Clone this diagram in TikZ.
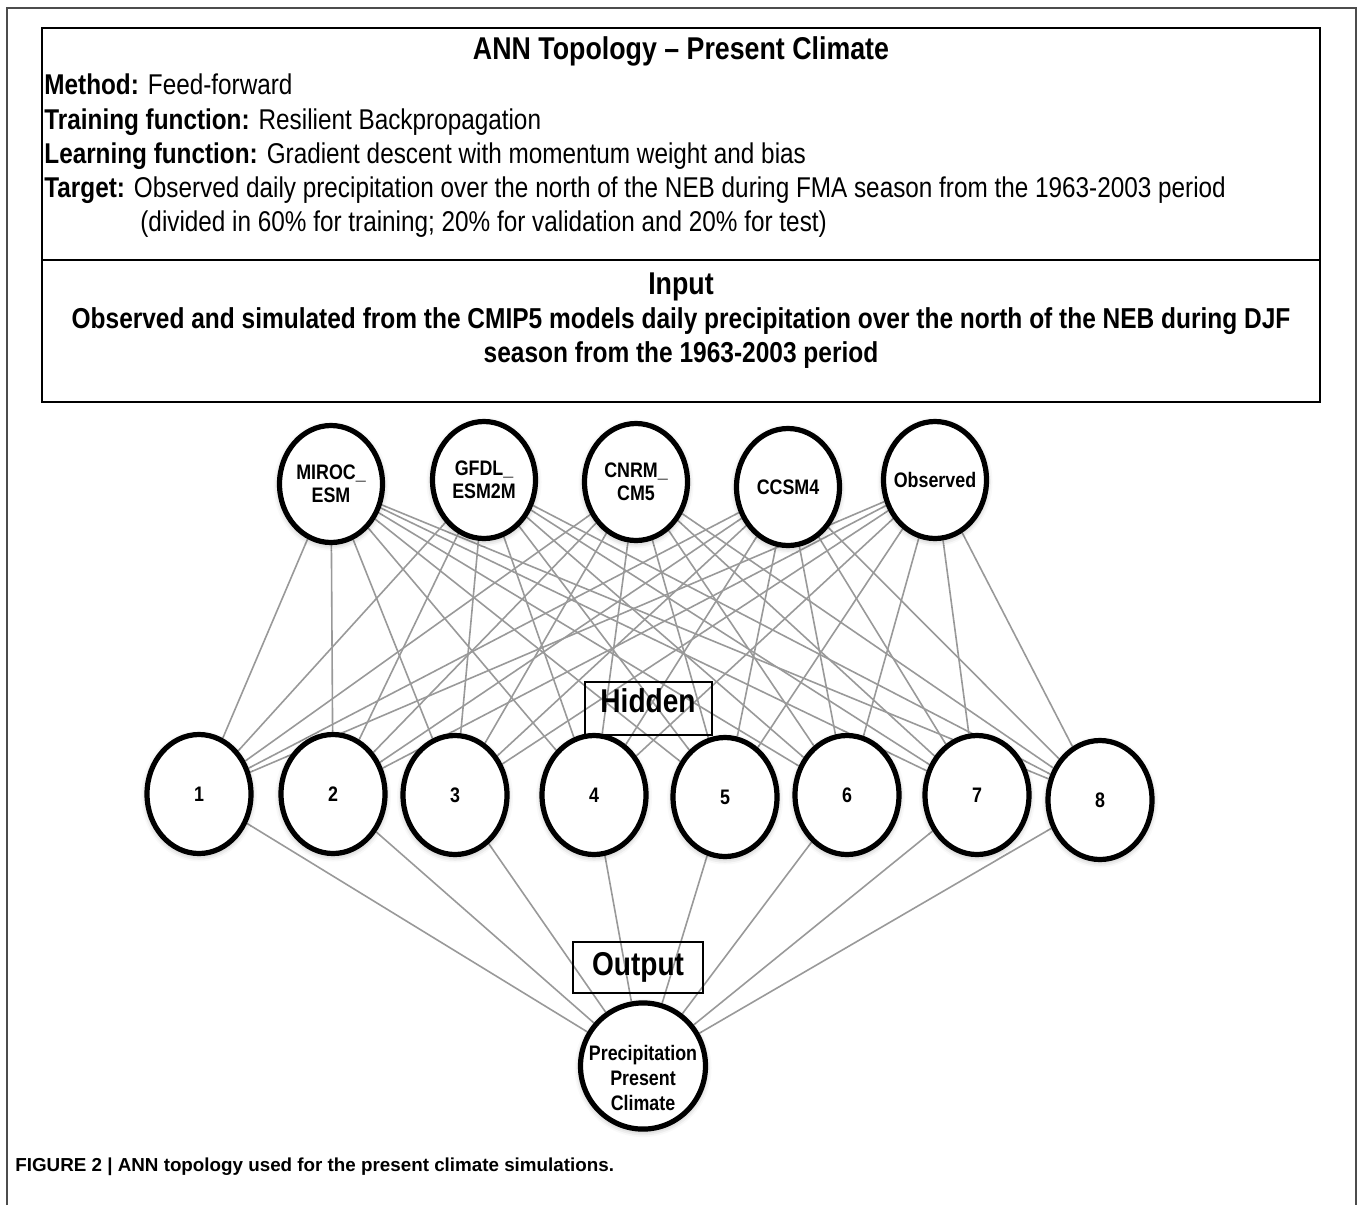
\documentclass[tikz,border=0pt]{standalone}
\usepackage{fontspec}
\setmainfont{Liberation Sans}
\newfontfamily\narrowfont{Liberation Sans}[FakeStretch=0.85]
\usetikzlibrary{shapes.geometric, shadows.blur, backgrounds}

\begin{document}
\begin{tikzpicture}[
    x=0.5pt, y=-0.5pt,
    every node/.style={font=\narrowfont\fontsize{14.3}{17}\selectfont, inner sep=0pt},
    panel/.style={
        rectangle,
        draw=black,
        line width=1.3pt,
        minimum width=639pt
    },
    neuron/.style={
        ellipse,
        draw=black,
        line width=2.6pt,
        fill=white,
        align=center,
        inner xsep=-5pt,
        font=\narrowfont\bfseries\fontsize{10.5}{11.5}\selectfont,
        blur shadow={shadow xshift=0pt, shadow yshift=-1pt, shadow blur radius=3pt, shadow opacity=35}
    },
    inputnode/.style={neuron, minimum width=51.5pt, minimum height=58.5pt},
    hiddennode/.style={neuron, minimum width=52pt, minimum height=59.5pt},
    outputnode/.style={neuron, minimum width=62.5pt, minimum height=61.5pt, font=\narrowfont\bfseries\fontsize{10.5}{12.5}\selectfont},
    layerlabel/.style={draw=black, line width=1pt, font=\narrowfont\bfseries\fontsize{16.5}{18}\selectfont},
    link/.style={draw=gray!80, line width=0.8pt}
]
\useasboundingbox (0,0) rectangle (1358,1205);

% outer frame
\draw[gray!60!black, line width=0.6pt] (7,1205) -- (7,8) -- (1356,8) -- (1356,1205);

% description panels
\node[panel, minimum height=116pt] (topology) at (681,144) {};
\node[panel, minimum height=71pt] (inputpanel) at (681,331) {};

\node[anchor=base, font=\narrowfont\bfseries\fontsize{15.75}{18}\selectfont] (title) at (681,59) {ANN Topology – Present Climate};
\node[anchor=base west] (method) at (44,94) {\textbf{Method:} Feed-forward};
\node[anchor=base west] (training) at (44,129) {\textbf{Training function:} Resilient Backpropagation};
\node[anchor=base west] (learning) at (44,163) {\textbf{Learning function:} Gradient descent with momentum weight and bias};
\node[anchor=base west] (target) at (44,197) {\textbf{Target:} Observed daily precipitation over the north of the NEB during FMA season from the 1963-2003 period};
\node[anchor=base west] (split) at (140,231) {(divided in 60\% for training; 20\% for validation and 20\% for test)};

\node[anchor=base, font=\narrowfont\bfseries\fontsize{15.75}{18}\selectfont] (inputtitle) at (681,294) {Input};
\node[anchor=base, font=\narrowfont\bfseries\fontsize{14.4}{17}\selectfont] (inputline) at (681,328) {Observed and simulated from the CMIP5 models daily precipitation over the north of the NEB during DJF};
\node[anchor=base, font=\narrowfont\bfseries\fontsize{14.4}{17}\selectfont] (inputline2) at (681,362) {season from the 1963-2003 period};

% input layer
\node[inputnode] (miroc) at (331,484) {MIROC\_\\ESM};
\node[inputnode] (gfdl) at (484,480) {GFDL\_\\ESM2M};
\node[inputnode] (cnrm) at (636,482) {CNRM\_\\CM5};
\node[inputnode] (ccsm) at (788,487) {CCSM4};
\node[inputnode] (obs) at (935,480) {Observed};

% hidden layer
\foreach \n/\px/\py in {1/199/794, 2/333/794, 3/455/795, 4/594/795, 5/725/797, 6/847/795, 7/977/795, 8/1100/800}
    \node[hiddennode] (h\n) at (\px,\py) {\n};

% output layer
\node[outputnode] (out) at (643,1066) {\mbox{}\\[7pt]Precipitation\\Present\\Climate};

\node[layerlabel, minimum width=63.5pt, minimum height=26.5pt, text depth=7pt] (hiddenlabel) at (648,708) {Hidden};
\node[layerlabel, minimum width=65pt, minimum height=25.5pt, text depth=3pt] (outputlabel) at (638,967) {Output};

% weights
\begin{scope}[on background layer]
    \foreach \i in {miroc, gfdl, cnrm, ccsm, obs}
        \foreach \j in {1,...,8}
            \draw[link] (\i) -- (h\j);
    \foreach \j in {1,...,8}
        \draw[link] (h\j) -- (out);
\end{scope}

\node[anchor=base west, font=\bfseries\fontsize{9.4}{11}\selectfont] (caption) at (15,1171) {FIGURE 2 | ANN topology used for the present climate simulations.};

\end{tikzpicture}
\end{document}
